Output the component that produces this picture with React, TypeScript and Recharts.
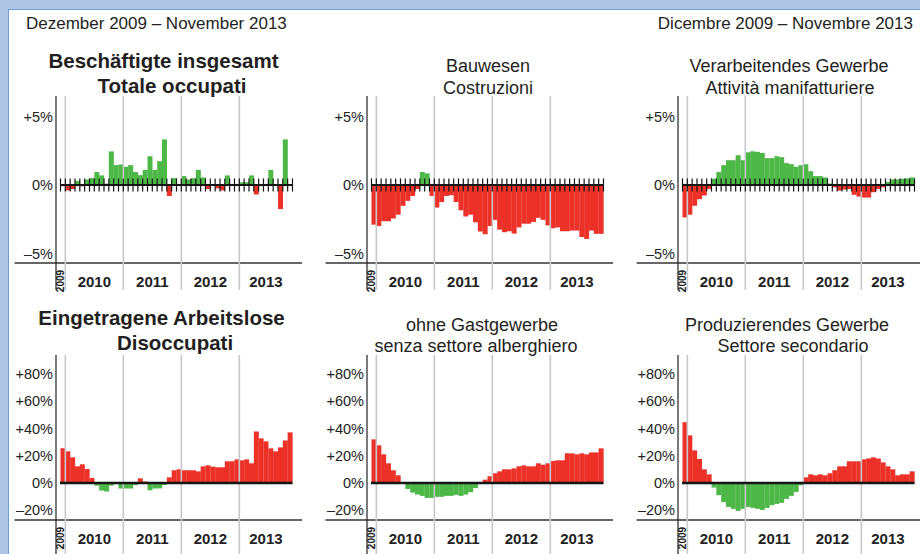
import React from "react";
import { Bar, BarChart, Cell, ReferenceLine, XAxis, YAxis } from "recharts";

// Dezember 2009 – November 2013, Veränderung gegenüber Vorjahresmonat
const monthNames = ["Jan", "Feb", "Mär", "Apr", "Mai", "Jun", "Jul", "Aug", "Sep", "Okt", "Nov", "Dez"];
const years = ["2010", "2011", "2012", "2013"];
const monthLabels = ["Dez 2009", ...years.flatMap((y) => monthNames.map((m) => `${m} ${y}`))].slice(0, 48);

const yearTicks = [0, 6.5, 18.5, 30.5, 42];
const yearTickLabels = ["2009", "2010", "2011", "2012", "2013"];
const yearBounds = [0.5, 12.5, 24.5, 36.5];

const employedTotal = [
  -0.1, -0.4, -0.3, 0.3, -0.1, 0.4, 0.5, 0.95, 0.7, 0.1, 2.45, 1.45, 1.5, 1.33, 1.45, 0.95, 0.72, 1.1, 2.1, 1.1,
  1.74, 3.33, -0.8, 0.5, 0.05, 0.65, 0.4, 0.5, 1.1, 0.55, -0.3, 0.05, -0.25, -0.4, 0.7, 0, 0, 0.2, 0.2, 0.7,
  -0.7, 0, 0, 1.1, 0, -1.76, 3.33, 0,
];
const construction = [
  -2.9, -3.0, -2.65, -2.65, -2.45, -2.17, -1.52, -1.16, -0.8, -0.3, 0.95, 0.85, -0.8, -1.65, -1.25, -0.8, -0.75,
  -1.25, -1.85, -2.3, -2.17, -2.73, -3.4, -3.6, -3.0, -2.55, -3.26, -3.45, -3.38, -3.55, -3.1, -2.83, -2.83, -2.7,
  -2.4, -2.55, -2.95, -3.16, -3.1, -3.38, -3.38, -3.33, -3.33, -3.8, -3.94, -3.33, -3.57, -3.57,
];
const manufacturing = [
  -2.37, -2.17, -1.52, -1.04, -0.77, -0.29, 0.46, 0.94, 1.45, 1.81, 1.81, 2.17, 1.81, 2.39, 2.46, 2.42, 2.34, 1.96,
  1.96, 2.1, 2.03, 1.6, 1.52, 1.33, 1.45, 1.52, 1.01, 0.65, 0.65, 0.55, 0.1, -0.17, -0.41, -0.34, -0.29, -0.72,
  -0.85, -0.92, -0.92, -0.53, -0.29, -0.17, 0.22, 0.41, 0.41, 0.46, 0.48, 0.55,
];
const unemployed = [
  25.4, 23.2, 18.8, 12.2, 13.7, 10.2, 3.7, -2.0, -5.6, -6.3, -2.0, 0, -4.1, -4.1, -4.1, -1.5, 3.4, 1.0, -5.4, -4.1,
  -4.0, -1.5, 4.1, 9.3, 10.0, 9.3, 9.3, 9.3, 8.5, 12.2, 12.9, 12.0, 11.5, 11.5, 15.9, 15.9, 17.3, 16.6, 17.3, 14.4,
  37.8, 32.7, 30.5, 25.4, 23.2, 26.1, 31.2, 37.1,
];
const noHospitality = [
  32, 27.6, 21, 14.4, 9.3, 5.6, 0, -4.4, -7.1, -8.5, -9.5, -11, -11, -10.2, -10.2, -9.5, -9.5, -8.8, -9.5, -8.5,
  -6.8, -3.7, 0, 2.4, 4.9, 7.1, 8.5, 10, 10, 10.7, 12.2, 12.9, 12.2, 12.2, 14.4, 13.4, 14.4, 16.1, 16.6, 16.6,
  21.7, 21.7, 21, 21.7, 21, 22.4, 22.4, 25.4,
];
const secondary = [
  44.6, 34.9, 23.9, 17.6, 10, 6.3, -3.4, -9, -14.1, -17.6, -19, -20.5, -19, -17.6, -18.3, -19, -19.8, -18.3, -16.3,
  -15.4, -14.6, -11.7, -9.5, -6.6, -1.7, 4.1, 6.3, 5.6, 6.3, 5.6, 7.1, 9.3, 12.2, 12.2, 15.9, 15.9, 15.9, 17.3, 18,
  18.8, 18, 15.1, 12.2, 10, 5.6, 6.3, 6.3, 8.5,
];

const topTicks = [-5, 0, 5];
const bottomTicks = [-20, 0, 20, 40, 60, 80];

const RED = "#ec3128";
const GREEN = "#4db848";
const FONT = "'Liberation Sans', Arial, Helvetica, sans-serif";
const X_DOMAIN: [number, number] = [-1.43, 49.47];

const fmtPct = (v: number) => (v > 0 ? `+${v}%` : v < 0 ? `\u2013${-v}%` : "0%");

const YearTick = (props: any) => {
  const { x, y, payload } = props;
  const i = yearTicks.indexOf(payload.value);
  const label = yearTickLabels[i];
  if (i === 0) {
    return (
      <text
        transform={`translate(${x - 2},${y + 18}) rotate(-90)`}
        textAnchor="middle"
        dominantBaseline="central"
        fontSize={10}
        fontWeight="bold"
        fill="#222"
      >
        {label}
      </text>
    );
  }
  return (
    <text x={x} y={y + 24} textAnchor="middle" fontSize={15} fontWeight="bold" fill="#222">
      {label}
    </text>
  );
};

interface PanelProps {
  values: number[];
  left: number;
  top: number;
  height: number;
  axisHeight: number;
  marginTop: number;
  yDomain: [number, number];
  yTicks: number[];
  yExt: number;
  monthTicks: boolean;
  zeroWidth: number;
  tickHalf: number;
  invert: boolean; // unemployment: rise = red
}

const Panel: React.FC<PanelProps> = ({
  values,
  left,
  top,
  height,
  axisHeight,
  marginTop,
  yDomain,
  yTicks,
  yExt,
  monthTicks,
  zeroWidth,
  tickHalf,
  invert,
}) => {
  const data = values.map((v, i) => ({ x: i, month: monthLabels[i], value: v }));
  const bounds = values.map((_, i) => i - 0.5).concat([values.length - 0.5]);
  const up = invert ? RED : GREEN;
  const down = invert ? GREEN : RED;

  return (
    <div style={{ position: "absolute", left, top }}>
      <BarChart
        width={311}
        height={height}
        data={data}
        margin={{ top: marginTop, right: 9, bottom: 0, left: 0 }}
        barCategoryGap={0}
        barGap={0}
      >
        <XAxis
          type="number"
          dataKey="x"
          domain={X_DOMAIN}
          allowDataOverflow
          ticks={yearTicks}
          interval={0}
          axisLine={false}
          tickLine={false}
          tickSize={0}
          tickMargin={0}
          height={axisHeight}
          tick={<YearTick />}
        />
        <YAxis
          type="number"
          domain={yDomain}
          allowDataOverflow
          ticks={yTicks}
          interval={0}
          axisLine={false}
          tickLine={false}
          tickSize={0}
          tickMargin={3}
          width={56}
          tickFormatter={fmtPct}
          tick={{ fontSize: 14.5, fill: "#222" }}
        />
        <Bar dataKey="value" isAnimationActive={false}>
          {data.map((d, i) => (
            <Cell key={i} fill={d.value >= 0 ? up : down} />
          ))}
        </Bar>
        <ReferenceLine
          segment={[{ x: -10, y: yDomain[0] }, { x: X_DOMAIN[1], y: yDomain[0] }]}
          stroke="#333"
          strokeWidth={1.3}
          ifOverflow="visible"
        />
        <ReferenceLine
          segment={[{ x: X_DOMAIN[0], y: yDomain[1] }, { x: X_DOMAIN[0], y: yExt }]}
          stroke="#222"
          strokeWidth={1.2}
          ifOverflow="visible"
        />
        {yearBounds.map((b) => (
          <ReferenceLine
            key={`y${b}`}
            segment={[{ x: b, y: yDomain[1] }, { x: b, y: yExt }]}
            stroke="#c8c8c8"
            strokeWidth={1.6}
            ifOverflow="visible"
          />
        ))}
        <ReferenceLine
          segment={[{ x: -0.6, y: 0 }, { x: values.length - 0.5, y: 0 }]}
          stroke="#151515"
          strokeWidth={zeroWidth}
          ifOverflow="visible"
        />
        {monthTicks &&
          bounds.map((b) => (
            <ReferenceLine
              key={`m${b}`}
              segment={[{ x: b, y: -tickHalf }, { x: b, y: tickHalf }]}
              stroke="#151515"
              strokeWidth={1.2}
              ifOverflow="visible"
            />
          ))}
      </BarChart>
    </div>
  );
};

const Title: React.FC<{ text: string; cx: number; baseline: number; size: number; bold?: boolean }> = ({
  text,
  cx,
  baseline,
  size,
  bold,
}) => (
  <div
    style={{
      position: "absolute",
      left: cx - 160,
      width: 320,
      top: baseline - 0.8465 * size,
      textAlign: "center",
      fontSize: size,
      lineHeight: `${size}px`,
      fontWeight: bold ? "bold" : "normal",
      color: "#231f20",
      whiteSpace: "nowrap",
    }}
  >
    {text}
  </div>
);

const TOP_DOMAIN: [number, number] = [-5.7, 6.5];
const BOTTOM_DOMAIN: [number, number] = [-27.2, 93.9];

export default function App() {
  const topCommon = {
    top: 90,
    height: 205,
    axisHeight: 32,
    marginTop: 6,
    yDomain: TOP_DOMAIN,
    yTicks: topTicks,
    yExt: -7.66,
    monthTicks: true,
    zeroWidth: 2,
    tickHalf: 0.48,
    invert: false,
  };
  const bottomCommon = {
    top: 350,
    height: 204,
    axisHeight: 34,
    marginTop: 5,
    yDomain: BOTTOM_DOMAIN,
    yTicks: bottomTicks,
    yExt: -52.1,
    monthTicks: false,
    zeroWidth: 2.6,
    tickHalf: 0,
    invert: true,
  };

  return (
    <div
      style={{
        position: "absolute",
        left: 0,
        top: 0,
        width: 920,
        height: 554,
        overflow: "hidden",
        background: "#aec4e4",
        fontFamily: FONT,
      }}
    >
      <div
        style={{
          position: "absolute",
          left: 8,
          top: 9,
          width: 920,
          height: 560,
          background: "#fff",
          borderLeft: "1px solid #6d9bd3",
          borderTop: "1px solid #6d9bd3",
        }}
      />
      <div
        style={{ position: "absolute", left: 26, top: 29 - 0.8465 * 17, fontSize: 17, lineHeight: "17px", color: "#231f20" }}
      >
        Dezember 2009 – November 2013
      </div>
      <div
        style={{ position: "absolute", right: 7, top: 29 - 0.8465 * 17, fontSize: 17, lineHeight: "17px", color: "#231f20" }}
      >
        Dicembre 2009 – Novembre 2013
      </div>

      <Title text="Beschäftigte insgesamt" cx={163.5} baseline={68} size={20.5} bold />
      <Title text="Totale occupati" cx={172} baseline={93} size={20.5} bold />
      <Title text="Bauwesen" cx={488} baseline={72} size={18} />
      <Title text="Costruzioni" cx={488} baseline={94} size={18} />
      <Title text="Verarbeitendes Gewerbe" cx={789} baseline={72} size={18} />
      <Title text="Attività manifatturiere" cx={790} baseline={94} size={18} />

      <Title text="Eingetragene Arbeitslose" cx={161.5} baseline={325} size={20.5} bold />
      <Title text="Disoccupati" cx={175} baseline={350} size={20.5} bold />
      <Title text="ohne Gastgewerbe" cx={482} baseline={331} size={18} />
      <Title text="senza settore alberghiero" cx={476} baseline={352} size={18} />
      <Title text="Produzierendes Gewerbe" cx={787} baseline={331} size={18} />
      <Title text="Settore secondario" cx={793} baseline={352} size={18} />

      <Panel values={employedTotal} left={0} {...topCommon} />
      <Panel values={construction} left={311} {...topCommon} />
      <Panel values={manufacturing} left={622} {...topCommon} />
      <Panel values={unemployed} left={0} {...bottomCommon} />
      <Panel values={noHospitality} left={311} {...bottomCommon} />
      <Panel values={secondary} left={622} {...bottomCommon} />
    </div>
  );
}
